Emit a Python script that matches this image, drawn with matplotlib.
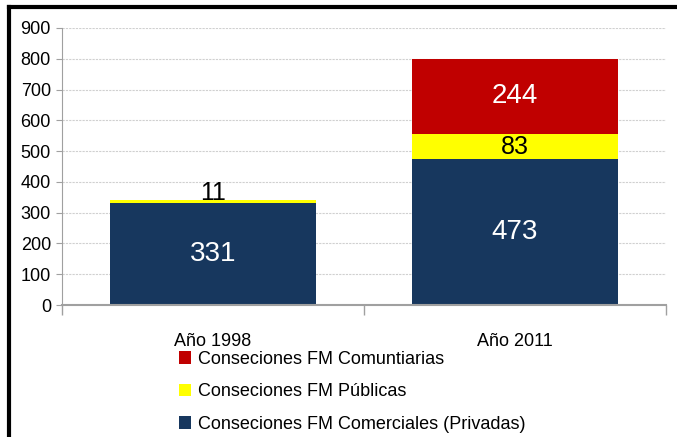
import numpy as np
import matplotlib.pyplot as plt
from matplotlib.lines import Line2D

plt.rcParams['font.family'] = ['Liberation Sans', 'DejaVu Sans']

years = ['Año 1998', 'Año 2011']
comerciales = [331, 473]
publicas = [11, 83]
comunitarias = [0, 244]
labels = ['Conseciones FM Comuntiarias', 'Conseciones FM Públicas',
          'Conseciones FM Comerciales (Privadas)']

navy = '#17375E'
yellow = '#FFFF00'
red = '#C00000'

fig = plt.figure(figsize=(6.77, 4.37), dpi=100)
ax = fig.add_axes([0.0916, 0.302, 0.892, 0.634])

x = np.arange(len(years))
w = 0.68
b1 = ax.bar(x, comerciales, w, color=navy, zorder=2)
b2 = ax.bar(x, publicas, w, bottom=comerciales, color=yellow, zorder=2)
bot3 = np.array(comerciales) + np.array(publicas)
b3 = ax.bar(x, comunitarias, w, bottom=bot3, color=red, zorder=2)

# value labels
for i in range(len(years)):
    ax.text(x[i], comerciales[i] / 2, str(comerciales[i]), color='white',
            fontsize=20, ha='center', va='center', zorder=3)
ax.text(x[0], bot3[0] + 22, str(publicas[0]), color='black', fontsize=18,
        ha='center', va='center', zorder=3)
ax.text(x[1], comerciales[1] + publicas[1] / 2, str(publicas[1]), color='black',
        fontsize=18, ha='center', va='center', zorder=3)
ax.text(x[1], bot3[1] + comunitarias[1] / 2, str(comunitarias[1]), color='white',
        fontsize=20, ha='center', va='center', zorder=3)

ax.set_xlim(-0.5, 1.5)
ax.set_ylim(0, 900)
ax.set_yticks(range(0, 901, 100))
ax.yaxis.grid(True, linestyle=(0, (2, 1)), color='#d0d0d0', linewidth=0.8, zorder=0)
ax.set_axisbelow(True)

for s in ['top', 'right']:
    ax.spines[s].set_visible(False)
ax.spines['left'].set_color('#a0a0a0')
ax.spines['bottom'].set_color('#a0a0a0')
ax.spines['bottom'].set_linewidth(1.5)

ax.set_xticks([-0.5, 0.5, 1.5])
ax.set_xticklabels([])
ax.set_xticks(x, minor=True)
ax.set_xticklabels(years, minor=True)
ax.tick_params(axis='x', which='major', length=7, color='#a0a0a0', width=1)
ax.tick_params(axis='x', which='minor', length=0, pad=20, labelsize=13)
ax.tick_params(axis='y', length=4, color='#a0a0a0', labelsize=13, pad=4)

handles = [b3, b2, b1]
fig.legend(handles, labels, loc='upper left', bbox_to_anchor=(0.253, 0.214),
           frameon=False, fontsize=13, handlelength=0.7, handleheight=0.7,
           handletextpad=0.4, labelspacing=0.86, borderaxespad=0)

# frame lines (left and top)
fig.add_artist(Line2D([0.0133, 0.0133], [0, 0.984], color='black', lw=3,
                      transform=fig.transFigure))
fig.add_artist(Line2D([0.0133, 1.0], [0.984, 0.984], color='black', lw=3,
                      transform=fig.transFigure))

fig.savefig('out.png', dpi=100)
